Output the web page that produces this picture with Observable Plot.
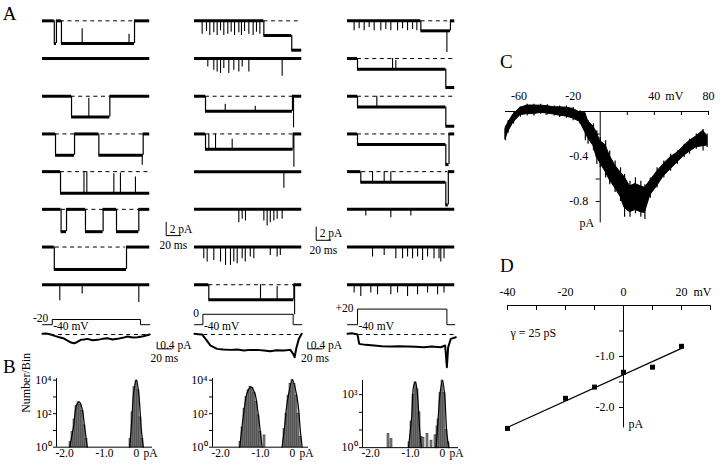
<!DOCTYPE html>
<html><head><meta charset="utf-8">
<script src="https://cdn.jsdelivr.net/npm/d3@7"></script>
<script src="https://cdn.jsdelivr.net/npm/@observablehq/plot@0.6"></script>
<style>
body{margin:0;background:#fff;}
#root{position:relative;width:720px;height:469px;overflow:hidden;font-family:"Liberation Serif","Times New Roman",serif;background:#fff;}
#root svg, #root svg text{font-family:"Liberation Serif","Times New Roman",serif !important;}
.lab{position:absolute;font-size:19px;line-height:1;}
</style></head>
<body><div id="root"></div>
<script>
// ===================== DATA =====================
// Panel A: single-channel records; time (ms), current (pA, relative to closed level)
const traceMs = 150;
const a1Seg = [
  [[0,0],[16.5,-3.4],[19.5,0],[26.5,-3.4],[128.7,0]],
  [[0,0]],
  [[0,0],[40.6,-3.1],[94.2,0]],
  [[0,0],[18.2,-3.2],[44.8,0],[78.8,-3.2],[140.8,0]],
  [[0,0],[25.2,-3.25]],
  [[0,0],[26,-3.35],[33.6,0],[60.1,-3.35],[84.8,0],[103.5,-3.35],[134.7,0]],
  [[0,0],[16.5,-3.35],[117.5,0]],
  [[0,0]]
];
const a1Spk = [
  [[55.5,-1.2],[121,-2.0]],
  [],
  [[64.8,-0.3]],
  [[139.5,-4.7]],
  [[58,0],[62,0],[99.8,-0.3],[109,-0.2],[130,-0.8]],
  [],
  [],
  [[24.2,-2.4],[55.5,-1.4],[134.7,-2.65]]
];
const a1Dash = [[25,128],null,[40,94],[18,141],[25,150],[26.6,137],[18,116],null];

const a2Seg = [
  [[0,0],[97,-2.2],[136,-4.4]],
  [[0,0]],
  [[0,0],[15.4,-2.25],[137,0]],
  [[0,0],[15.4,-2.3],[138,0]],
  [[0,0]],
  [[0,0]],
  [[0,0]],
  [[0,0],[20,-2.25],[139,0]]
];
const a2Spk = [
  [[10.7,-2],[16.8,-1.6],[21.4,-2.2],[27,-1.8],[31.7,-2.2],[36.4,-1.5],[41,-2.2],[46.6,-2],[51.3,-1.7],[56,-2.2],[62,-1.8],[65.7,-2.2],[70,-1.6],[76,-2],[82,-2.2],[86.7,-1.7],[91.4,-2]],
  [[18.6,-1.25],[27,-1.75],[31.7,-2],[36.4,-2.25],[41,-1.5],[48,-2.25],[55,-1.75],[62,-2],[66.7,-1.25],[76,-2],[122.6,-2.65]],
  [[43,-1.2],[85,-1.5],[138.5,-4.75]],
  [[20,0],[29.4,0],[52.7,-0.8],[139,-5]],
  [[125,-2.5]],
  [[62,-2],[66.7,-1.5],[71.3,-1.75],[97,-1.75],[101.6,-2.5],[106,-2],[111,-1.75],[115.6,-1.5],[122.6,-1.5]],
  [[13,-1.75],[17.7,-2.25],[27,-2],[36.4,-2.25],[43.4,-2.75],[50.3,-2.75],[55,-2.25],[59.7,-2.5],[66.7,-1.75],[71,-2.25],[78,-1.5],[83,-1.75],[106,-1.25],[115.6,-1.5],[120,-1.25]],
  [[92.3,0],[115.6,-0.25],[140,-4.5]]
];
const a2Dash = [[97,148],null,[15.4,148],[15.4,137],null,null,null,[20,148]];

const a3Seg = [
  [[0,0],[102.6,-1.5],[144,0]],
  [[0,0],[14,-1.6],[137.5,-4.35]],
  [[0,0],[14,-1.6],[137.5,-4.5]],
  [[0,0],[14,-1.6],[137.5,-4.6],[142,0]],
  [[0,0],[18.6,-1.6],[137.5,-5],[141,0]],
  [[0,0]],
  [[0,0]],
  [[0,0]]
];
const a3Spk = [
  [[9.3,-1.5],[16.3,-1.2],[23.3,-1.5],[30.3,-1],[37.3,-1.5],[46.6,-1.5],[53.6,-1.3],[60.6,-1.5],[70,-1.5],[77,-1.2],[84,-1.5],[91,-1.3],[97,-1.5],[139,-4.75]],
  [[63,0],[67.6,-0.3]],
  [[41,0]],
  [],
  [[35,0],[51.3,0],[60.6,0]],
  [[25.6,-1],[60.6,-1.25],[88.6,-1]],
  [[35,-1.5],[51.3,-1.25],[67.6,-1.75],[77,-1.75],[84,-1.5],[91,-1.75],[98,-1.5],[105,-2],[112,-1.5],[121,-1.75],[128,-1.75],[130.5,-2.25],[135,-1.75]],
  [[9.3,-1.25],[18.6,-1.75],[32.6,-1.25],[42,-1.5],[60.6,-1.5],[70,-1.25],[84,-1.75],[98,-1.5],[112,-1.25],[126,-1.5],[135,-1.25]]
];
const a3Dash = [[103,140],[14,150],[14,149],[14,147],[20,140],null,null,null];

// ensemble averages (ms, pA)
const e1 = [[0,0.04],[5,0.06],[11.6,0],[17,-0.08],[23.3,-0.16],[29,-0.22],[35,-0.36],[40,-0.48],[44.3,-0.52],[48,-0.46],[53.6,-0.32],[58,-0.3],[62.9,-0.26],[70,-0.34],[76.9,-0.32],[84,-0.26],[90.9,-0.22],[98,-0.3],[104.9,-0.26],[112,-0.2],[118.9,-0.12],[126,-0.18],[132.9,-0.16],[141,-0.1],[150,0]];
const e2 = [[0,0.04],[5,0.02],[10.7,0],[15.4,-0.26],[22.4,-0.66],[31.7,-0.86],[40,-0.9],[50.3,-0.92],[60,-0.9],[69,-0.96],[78,-0.92],[87.6,-0.92],[97,-0.96],[106,-1.0],[115,-0.94],[125,-0.96],[134,-0.92],[138,-1.16],[140,-1.36],[142.7,-0.76],[146,-0.26],[150,0.04]];
const e3 = [[0,0.04],[6,0.08],[14,0],[16.3,-0.56],[25,-0.62],[37.3,-0.66],[48,-0.7],[60.6,-0.72],[72,-0.7],[84,-0.72],[95,-0.74],[107,-0.76],[118,-0.72],[130.5,-0.76],[136.6,-0.66],[139,-1.96],[140.8,-0.76],[144.5,-0.26],[151.5,-0.16]];
const eDash = [[11.6,150],[13,150],[16,151]];

// voltage protocol
const stepOn = [13.6, 11.7, 14];
const stepOff = [137, 138, 139];
const stepMv = [-20, 0, 20];
const stepLabels = ["-20", "0", "+20"];
const holdMv = -40;
const holdLabel = "-40 mV";

// scale bar values
const barPa = 2, barMs = 20, eBarPa = 0.4;

// Panel B: amplitude histograms [pA, count]
const binW = 0.05;
const b1Bars = [[-1.65,2],[-1.6,8],[-1.55,45],[-1.5,300],[-1.45,480],[-1.4,350],[-1.35,150],[-1.3,20],[-1.25,3],
                [-0.15,3],[-0.1,120],[-0.05,4000],[0,9500],[0.05,2500],[0.1,60],[0.15,3]];
const b1FitL = [[-1.67,1],[-1.57,20],[-1.5,320],[-1.43,500],[-1.36,200],[-1.29,12],[-1.23,1]];
const b1FitR = [[-0.17,1],[-0.11,80],[-0.07,2000],[0,10000],[0.06,1250],[0.12,12],[0.17,1]];
const b2Bars = [[-1.3,2],[-1.25,15],[-1.2,200],[-1.15,1000],[-1.1,2500],[-1.05,4000],[-1.0,3500],[-0.95,1800],[-0.9,500],[-0.85,80],[-0.8,8],[-0.7,5],
                [-0.2,12],[-0.15,100],[-0.1,1200],[-0.05,6000],[0,10000],[0.05,6000],[0.1,1200],[0.15,100],[0.2,4]];
const b2FitL = [[-1.32,1],[-1.21,160],[-1.14,1600],[-1.04,4000],[-0.94,1600],[-0.87,160],[-0.76,1]];
const b2FitR = [[-0.26,1],[-0.2,15],[-0.125,630],[0,10000],[0.125,630],[0.2,8],[0.24,1]];
const b3Bars = [[-1.35,6],[-1.275,3],
                [-0.825,2],[-0.775,30],[-0.725,1000],[-0.675,5000],[-0.625,2000],[-0.575,100],[-0.525,4],
                [-0.475,3.5],[-0.375,6],[-0.275,2.5],[-0.175,5],[-0.125,16],
                [-0.1,40],[-0.05,1200],[0,6300],[0.05,1200],[0.1,10],[0.15,2]];
const b3FitL = [[-0.85,1],[-0.77,60],[-0.72,3200],[-0.675,5000],[-0.63,1260],[-0.57,10],[-0.53,1]];
const b3FitR = [[-0.16,1],[-0.11,40],[-0.06,1260],[0,6300],[0.05,1260],[0.11,6],[0.16,1]];
const bXTicks = [-2, -1, 0];
const bXLabels = ["-2.0", "-1.0", "0"];
const b12YTicks = [1, 10, 100, 1000, 10000];
const b12YLabels = ["10\u2070", "", "10\u00b2", "", "10\u2074"];
const b3YTicks = [1, 10, 100, 1000];
const b3YLabels = ["10\u2070", "", "", "10\u00b3"];

// Panel C: ramp I-V; mV, centre of the dense trace and its noise envelope (pA)
const cMv  = [-70,-68,-64,-59,-54,-49,-44,-39,-34,-30,-25,-20,-15,-11,-9,-5,-2.5,0,4,7,11,15,18,22,26,30,33,37,42,47,52,57,62,66,71,76,79];
const cMid = [-0.2,-0.14,-0.06,0,0.015,0.015,0.02,0.015,0.005,0,-0.005,-0.02,-0.05,-0.1,-0.16,-0.22,-0.3,-0.36,-0.42,-0.5,-0.58,-0.65,-0.72,-0.78,-0.76,-0.78,-0.79,-0.68,-0.6,-0.52,-0.46,-0.41,-0.35,-0.31,-0.27,-0.24,-0.26];
const cHi  = [-0.13,-0.08,-0.01,0.04,0.065,0.065,0.065,0.06,0.05,0.05,0.05,0.036,0.006,-0.02,-0.08,-0.11,-0.17,-0.23,-0.26,-0.35,-0.44,-0.5,-0.56,-0.62,-0.59,-0.62,-0.65,-0.59,-0.5,-0.44,-0.38,-0.35,-0.29,-0.246,-0.2,-0.16,-0.2];
const cLo  = [-0.26,-0.19,-0.11,-0.05,-0.04,-0.04,-0.024,-0.03,-0.039,-0.053,-0.059,-0.083,-0.11,-0.26,-0.29,-0.35,-0.47,-0.5,-0.59,-0.65,-0.72,-0.8,-0.94,-0.94,-0.91,-0.94,-0.96,-0.77,-0.68,-0.59,-0.53,-0.47,-0.41,-0.38,-0.335,-0.35,-0.32];
const cXTicks = [-60,-40,-20,20,40,60,80];
const cXLabels = [-60,-20,40,80];
const cYTicks = [-0.2,-0.4,-0.6,-0.8];
const cYLabels = [-0.4,-0.8];

// Panel D: unitary I-V
const dMv = [-40,-20,-10,0,10,20];
const dPa = [-2.41,-1.82,-1.60,-1.31,-1.21,-0.80];
const dFitMv = [-40, 20];
const dFitPa = [-2.39, -0.84];
const dXTicks = [-40,-30,-20,-10,10,20,30];
const dXLabels = [-40,-20,0,20];
const dYTicks = [-0.5,-1,-1.5,-2];
const dYLabels = [-1,-2];
const gammaText = "\u03b3 = 25 pS";

// ===================== LAYOUT =====================
const FONT = '"Liberation Serif","Times New Roman",serif';
const STYLE = `font-family:${FONT};font-size:12px;background:transparent;overflow:visible;color:black;`;
const root = document.getElementById("root");
function put(el, left, top) {
  el.style.position = "absolute";
  el.style.left = left + "px";
  el.style.top = top + "px";
  root.appendChild(el);
}
const T = (data, opts) => Plot.text(data, {fontFamily: FONT, fontSize: 12, ...opts});
const PX_MS = 0.715, PX_PA = 6.67, ROW_PX = 37.7, ROW_PA = ROW_PX / PX_PA;
const colX0 = [42, 194, 346.7];
const tDom = [0, 210];
const aBarAt = [{t: 173, y: -32.2}, {t: 170.2, y: -32.9}, null];
const eBarAt = [{t: 160.4, y: -0.86}, {t: 158.5, y: -0.86}, null];

const segs = [a1Seg, a2Seg, a3Seg], spks = [a1Spk, a2Spk, a3Spk], dashes = [a1Dash, a2Dash, a3Dash];
const ens = [e1, e2, e3];

for (let c = 0; c < 3; c++) {
  const levels = [], jumps = [], spikes = [];
  segs[c].forEach((seg, r) => {
    const off = -r * ROW_PA;
    seg.forEach(([t0, v], i) => {
      const t1 = i + 1 < seg.length ? seg[i + 1][0] : traceMs;
      levels.push({t0, t1, y: v + off});
      if (i > 0) jumps.push({t: t0, y1: seg[i - 1][1] + off, y2: v + off});
    });
    const levelAt = t => { let l = seg[0][1]; for (const [s, v] of seg) if (s <= t) l = v; return l; };
    spks[c][r].forEach(([t, a]) => spikes.push({t, y1: levelAt(t) + off, y2: a + off}));
  });
  const dsh = dashes[c].map((d, r) => d && {t1: d[0], t2: d[1], y: -r * ROW_PA}).filter(Boolean);
  const marks = [
    Plot.ruleY(dsh, {y: "y", x1: "t1", x2: "t2", stroke: "black", strokeWidth: 1, strokeDasharray: "4,3.6"}),
    Plot.ruleY(levels, {y: "y", x1: "t0", x2: "t1", stroke: "black", strokeWidth: 3}),
    Plot.ruleX(jumps, {x: "t", y1: "y1", y2: "y2", stroke: "black", strokeWidth: 1.2}),
    Plot.ruleX(spikes, {x: "t", y1: "y1", y2: "y2", stroke: "black", strokeWidth: 1.1})
  ];
  const sb = aBarAt[c];
  if (sb) {
    marks.push(
      Plot.line([[sb.t, sb.y + barPa], [sb.t, sb.y], [sb.t + barMs, sb.y]], {x: d => d[0], y: d => d[1], stroke: "black", strokeWidth: 1}),
      T([`${barPa} pA`], {x: () => sb.t, y: () => sb.y + barPa / 2, dx: 3.5, textAnchor: "start", fontSize: 11.5}),
      T([`${barMs} ms`], {x: () => sb.t + barMs / 2, y: () => sb.y, dy: 10, fontSize: 11.5})
    );
  }
  put(Plot.plot({
    width: 151, height: 307, margin: 0,
    x: {domain: tDom, range: [0, (tDom[1] - tDom[0]) * PX_MS], axis: null},
    y: {domain: [-44, 2], range: [46 * PX_PA, 0], axis: null},
    style: STYLE, marks
  }), colX0[c], 20 - 2 * PX_PA);

  // voltage step
  const on = stepOn[c], off = stepOff[c], v = stepMv[c];
  const stepPts = [[0, holdMv], [on, holdMv], [on, v], [off, v], [off, holdMv], [traceMs, holdMv]];
  const MV_PX = 0.26;
  put(Plot.plot({
    width: 151, height: 90 * MV_PX, margin: 0,
    x: {domain: tDom, range: [0, (tDom[1] - tDom[0]) * PX_MS], axis: null},
    y: {domain: [-60, 30], range: [90 * MV_PX, 0], axis: null},
    style: STYLE,
    marks: [
      Plot.line(stepPts, {x: d => d[0], y: d => d[1], stroke: "black", strokeWidth: 1}),
      T([stepLabels[c]], {x: () => on, y: () => v, dx: -4, dy: -1, textAnchor: "end", fontSize: 11.5}),
      T([holdLabel], {x: () => on, y: () => holdMv, dx: 1, dy: 1.5, textAnchor: "start", fontSize: 11.5})
    ]
  }), colX0[c], 324.5 - 70 * MV_PX);

  // ensemble average
  const EPX = 16.7;
  const emarks = [
    Plot.ruleY([eDash[c]], {y: () => 0, x1: d => d[0], x2: d => d[1], stroke: "black", strokeWidth: 1, strokeDasharray: "4,3.6"}),
    Plot.line(ens[c], {x: d => d[0], y: d => d[1], stroke: "black", strokeWidth: 2, strokeLinejoin: "round"})
  ];
  const eb = eBarAt[c];
  if (eb) {
    emarks.push(
      Plot.line([[eb.t, eb.y + eBarPa], [eb.t, eb.y], [eb.t + barMs, eb.y]], {x: d => d[0], y: d => d[1], stroke: "black", strokeWidth: 1}),
      T([`${eBarPa} pA`], {x: () => eb.t, y: () => eb.y + eBarPa / 2, dx: 3, textAnchor: "start", fontSize: 11.5}),
      T([`${barMs} ms`], {x: () => eb.t + barMs / 2, y: () => eb.y, dy: 9, fontSize: 11.5})
    );
  }
  put(Plot.plot({
    width: 151, height: 2.6 * EPX, margin: 0,
    x: {domain: tDom, range: [0, (tDom[1] - tDom[0]) * PX_MS], axis: null},
    y: {domain: [-2, 0.6], range: [2.6 * EPX, 0], axis: null},
    style: STYLE, marks: emarks
  }), colX0[c], 334 - 0.6 * EPX);
}

// ---------- Panel B ----------
function hist(bars, fits, yTicks, yLabels, topDec, pxDec, x0, withLabel) {
  const ML = 30, MR = 24, MT = 4, MB = 20;
  const labDx = [-1, 8, 0];
  const labAnchor = ["start", "middle", "middle"];
  const marks = [
    Plot.rectY(bars, {x1: d => d[0] - binW / 2, x2: d => d[0] + binW / 2, y1: () => 1, y2: d => d[1], fill: "#8c8c8c", stroke: "#111", strokeWidth: 0.5}),
    ...fits.map(f => Plot.line(f, {x: d => d[0], y: d => d[1], curve: "catmull-rom", stroke: "black", strokeWidth: 1.2})),
    Plot.ruleY([1], {x1: -2, x2: 0.4, stroke: "black", strokeWidth: 1}),
    Plot.ruleX([-2], {y1: 1, y2: 10 ** topDec, stroke: "black", strokeWidth: 1}),
    Plot.axisY({ticks: yTicks, tickFormat: d => yLabels[yTicks.indexOf(d)] || "", tickSize: 3, tickPadding: 2, fontSize: 12, fontFamily: FONT, label: null}),
    ...bXLabels.map((s, i) => T([s], {x: () => bXTicks[i], y: () => 1, dx: labDx[i], dy: 1.5, lineAnchor: "top", textAnchor: labAnchor[i], fontSize: 11.5})),
    T(["pA"], {x: () => 0, y: () => 1, dx: 7, dy: 1.5, lineAnchor: "top", textAnchor: "start", fontSize: 11.5})
  ];
  if (withLabel) marks.push(T(["Number/Bin"], {frameAnchor: "left", rotate: -90, dx: -30, fontSize: 12}));
  const h = topDec * pxDec;
  put(Plot.plot({
    width: ML + 96 + MR, height: MT + h + MB,
    marginLeft: ML, marginRight: MR, marginTop: MT, marginBottom: MB,
    x: {domain: [-2, 0.4], axis: null}, y: {type: "log", domain: [1, 10 ** topDec]},
    style: STYLE, marks
  }), x0 - ML, 447 - h - MT);
}
hist(b1Bars, [b1FitL, b1FitR], b12YTicks, b12YLabels, 4.1, 16.75, 56, true);
hist(b2Bars, [b2FitL, b2FitR], b12YTicks, b12YLabels, 4.1, 16.75, 211.7, false);
hist(b3Bars, [b3FitL, b3FitR], b3YTicks, b3YLabels, 3.8, 17.67, 362, false);

// ---------- Panel C ----------
{
  const W = 230, ML = 15, MR = 12, MT = 30, MB = 12;
  const pxMv = (W - ML - MR) / 150, pxPa = 112.5;
  const H = MT + 0.99 * pxPa + MB;
  const idx = cMv.map((_, i) => i);
  const core = i => (cHi[i] - cLo[i]) * 0.36;
  put(Plot.plot({
    width: W, height: H, marginLeft: ML, marginRight: MR, marginTop: MT, marginBottom: MB,
    x: {domain: [-70, 80], axis: null}, y: {domain: [-0.99, 0], axis: null},
    style: STYLE,
    marks: [
      Plot.ruleX(idx, {x: i => cMv[i], y1: i => cLo[i], y2: i => cHi[i], stroke: "black", strokeWidth: 1.2}),
      Plot.areaY(idx, {x: i => cMv[i], y1: i => cMid[i] - core(i), y2: i => cMid[i] + core(i), fill: "black", stroke: "black", strokeWidth: 1}),
      Plot.ruleY([0], {x1: -70, x2: 80, stroke: "black"}),
      Plot.ruleX([0], {y1: 0, y2: -0.99, stroke: "black"}),
      Plot.ruleX(cXTicks, {y1: 0, y2: -4 / pxPa, stroke: "black"}),
      Plot.ruleY(cYTicks, {x1: 0, x2: -4 / pxMv, stroke: "black"}),
      T(cXLabels, {x: d => d, y: () => 0, dy: -15, text: d => String(d)}),
      T(["mV"], {x: () => 40, y: () => 0, dx: 11, dy: -15, textAnchor: "start"}),
      T(cYLabels, {x: () => 0, y: d => d, dx: -12, textAnchor: "end", text: d => d.toFixed(1)}),
      T(["pA"], {x: () => 0, y: () => -0.99, dx: -6, textAnchor: "end"})
    ]
  }), 600 - 70 * pxMv - ML, 110.7 - MT);
}

// ---------- Panel D ----------
{
  const W = 230, ML = 15, MR = 12, MT = 30, MB = 12;
  const pxMv = (W - ML - MR) / 70, pxPa = 51;
  const H = MT + 2.4 * pxPa + MB;
  const idx = dMv.map((_, i) => i);
  put(Plot.plot({
    width: W, height: H, marginLeft: ML, marginRight: MR, marginTop: MT, marginBottom: MB,
    x: {domain: [-40, 30], axis: null}, y: {domain: [-2.4, 0], axis: null},
    style: STYLE,
    marks: [
      Plot.ruleY([0], {x1: -40, x2: 30, stroke: "black"}),
      Plot.ruleX([0], {y1: 0, y2: -2.4, stroke: "black"}),
      Plot.ruleX(dXTicks, {y1: 0, y2: -5 / pxPa, stroke: "black"}),
      Plot.ruleY(dYTicks, {x1: 0, x2: -4 / pxMv, stroke: "black"}),
      T(dXLabels, {x: d => d, y: () => 0, dy: -13.3, text: d => String(d)}),
      T(["mV"], {x: () => 20, y: () => 0, dx: 12, dy: -13.3, textAnchor: "start"}),
      T(dYLabels, {x: () => 0, y: d => d, dx: -9, textAnchor: "end", text: d => d.toFixed(1)}),
      T(["pA"], {x: () => 0, y: () => -2.32, dx: 5, textAnchor: "start"}),
      T([gammaText], {x: () => -40, y: () => -0.54, dx: 3, textAnchor: "start"}),
      Plot.line(dFitMv.map((_, i) => i), {x: i => dFitMv[i], y: i => dFitPa[i], stroke: "black", strokeWidth: 1.2}),
      Plot.dot(idx, {x: i => dMv[i], y: i => dPa[i], symbol: "square", r: 2.8, fill: "black", stroke: "none"})
    ]
  }), 623 - 40 * pxMv - ML, 305 - MT);
}

// panel letters
[["A", 2.7, 4], ["B", 3, 357.4], ["C", 500, 52.4], ["D", 500, 255.7]].forEach(([t, x, y]) => {
  const d = document.createElement("div");
  d.className = "lab"; d.textContent = t;
  put(d, x, y);
});
</script>
</body></html>
